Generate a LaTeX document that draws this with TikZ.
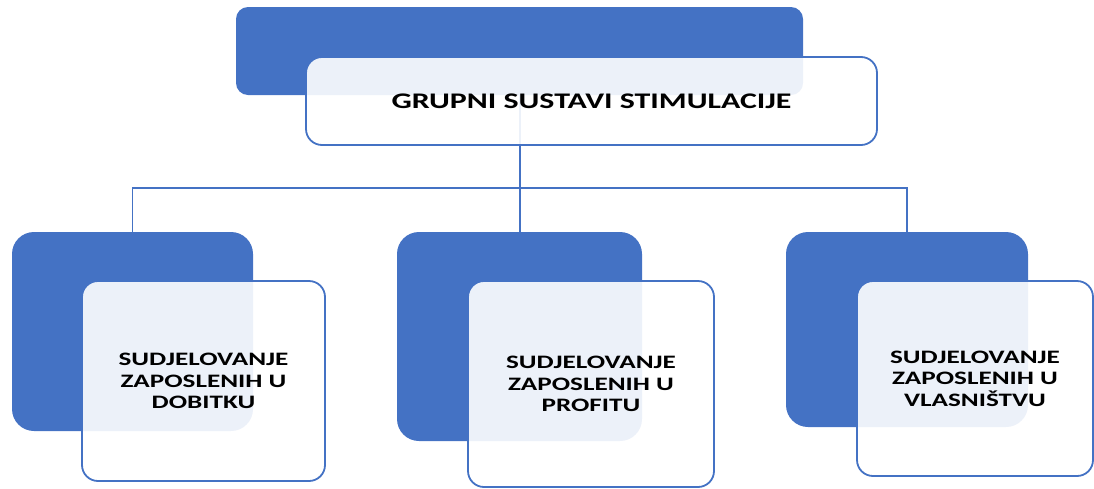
\documentclass[tikz,border=0pt]{standalone}
\usepackage{fontspec}
\setmainfont{Carlito}[FakeStretch=1.43]
\usetikzlibrary{backgrounds}
\definecolor{accent}{HTML}{4472C4}
\begin{document}
\begin{tikzpicture}[x=1pt,y=-1pt,
  back/.style={fill=accent,draw=none,rounded corners=#1,inner sep=0pt,outer sep=0pt,anchor=north west},
  front/.style={fill=white,fill opacity=0.9,text opacity=1,draw=accent,draw opacity=1,line width=1.8pt,
    rounded corners=16pt,inner sep=0pt,outer sep=0pt,anchor=north west,align=center,
    font=\bfseries\fontsize{19}{21.5}\selectfont},
  link/.style={draw=accent,line width=1.8pt}]
\useasboundingbox (0,0) rectangle (1094,488);

% solid blue back plates
\node[back=12pt,minimum width=567pt,minimum height=88pt] (topdark) at (236,7) {};
\node[back=22pt,minimum width=241pt,minimum height=199pt] (d1) at (12,232) {};
\node[back=22pt,minimum width=245pt,minimum height=209pt] (d2) at (397,232) {};
\node[back=22pt,minimum width=242pt,minimum height=195pt] (d3) at (786,232) {};
\coordinate (hub) at (520,188);

% tree connectors, kept underneath the plates
\begin{scope}[on background layer]
  \draw[link] (topdark.center -| hub) -- (hub);
  \draw[link] (d1.north) |- (hub) -| (d3.north);
  \draw[link] (hub) -- (hub |- d2.north);
\end{scope}

% translucent front cards with the labels
\node[front,minimum width=571pt,minimum height=88pt,font=\bfseries\fontsize{22.3}{24}\selectfont]
  (top) at (306,57) {GRUPNI SUSTAVI STIMULACIJE};
\node[front,minimum width=243pt,minimum height=200pt] (l1) at (82,281)
  {SUDJELOVANJE\\ZAPOSLENIH U\\DOBITKU};
\node[front,minimum width=246pt,minimum height=206pt] (l2) at (468,281)
  {SUDJELOVANJE\\ZAPOSLENIH U\\PROFITU};
\node[front,minimum width=236pt,minimum height=195pt] (l3) at (857,281)
  {SUDJELOVANJE\\ZAPOSLENIH U\\VLASNIŠTVU};
\end{tikzpicture}
\end{document}
